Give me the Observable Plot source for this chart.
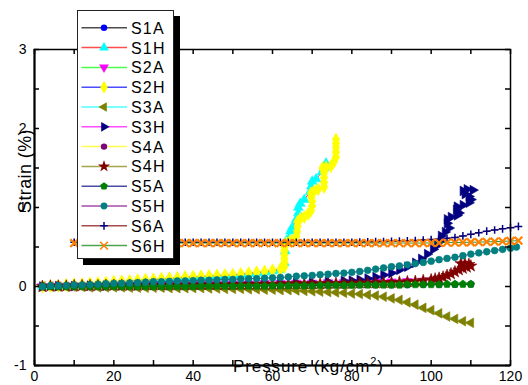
<!DOCTYPE html>
<html><head><meta charset="utf-8">
<script src="https://cdn.jsdelivr.net/npm/d3@7"></script>
<script src="https://cdn.jsdelivr.net/npm/@observablehq/plot@0.6"></script>
<style>
html,body{margin:0;padding:0;background:#fff;}
#chart{width:528px;height:385px;position:relative;overflow:hidden;}
</style></head><body><div id="chart"></div>
<script>
// ---- tick labels / axis ----
const xTicks = [0, 20, 40, 60, 80, 100, 120];
const yTicks = [-1, 0, 1, 2, 3];
const xMinorTicks = [0, 10, 20, 30, 40, 50, 60, 70, 80, 90, 100, 110, 120];
const yMinorTicks = [-1, -0.5, 0, 0.5, 1, 1.5, 2, 2.5, 3];
const xTitle = "Pressure (kg/cm";
const xTitleSup = "2";
const xTitleEnd = ")";
const yTitle = "Strain (%)";

// ---- series names and colours ----
const names = ["S1A","S1H","S2A","S2H","S3A","S3H","S4A","S4H","S5A","S5H","S6A","S6H"];
const lineColors = ["#000000","#ff0000","#00ff00","#0000ff","#00ffff","#ff00ff","#ffff00","#808000","#000080","#800080","#800000","#008000"];
const markColors = ["#0000ff","#00ffff","#ff00ff","#ffff00","#808000","#000080","#800080","#800000","#008000","#008080","#000080","#ff8000"];

// ---- data: [pressure, strain %] ----
const S1A = [[2,0],[6,0],[10,0],[14,0],[18,0],[22,0],[26,0],[30,0],[34,0],[38,0],[42,0.005],[46,0.005],[50,0.005],[54,0.01],[58,0.01],[62,0.01],[66,0.01],[70,0.015],[74,0.015],[78,0.015],[82,0.02],[86,0.02],[90,0.02],[94,0.02],[98,0.025],[102,0.025],[106,0.025],[110,0.03]];
const S1H = [[2,0],[4,0],[6,0.005],[8,0.01],[10,0.015],[12,0.02],[14,0.03],[16,0.035],[18,0.04],[20,0.05],[22,0.055],[24,0.06],[26,0.07],[28,0.075],[30,0.08],[32,0.09],[34,0.095],[36,0.10],[38,0.11],[40,0.115],[42,0.12],[44,0.125],[46,0.13],[48,0.135],[50,0.14],[52,0.15],[54,0.16],[56,0.17],[58,0.18],[60,0.195],[62,0.21],[63,0.3],[63.2,0.45],[63.5,0.58],[64.2,0.62],[64.5,0.7],[65,0.75],[66,0.85],[66.5,0.93],[66.5,1.0],[67,1.05],[68,1.1],[69.5,1.2],[69.8,1.27],[70,1.33],[71,1.36],[72.5,1.45],[73,1.5],[73.5,1.56]];
const S2A = [[2,0],[6,0.005],[10,0.01],[14,0.01],[18,0.015],[22,0.015],[26,0.02],[30,0.02],[34,0.025],[38,0.025],[42,0.03],[46,0.03],[50,0.035],[54,0.035],[58,0.04],[62,0.04],[66,0.045],[70,0.045],[74,0.05],[78,0.05],[82,0.055],[86,0.06],[90,0.06],[94,0.065],[98,0.07]];
const S2H = [[2,0],[4,0.005],[6,0.01],[8,0.02],[10,0.025],[12,0.03],[14,0.04],[16,0.045],[18,0.05],[20,0.06],[22,0.065],[24,0.07],[26,0.08],[28,0.085],[30,0.09],[32,0.10],[34,0.105],[36,0.11],[38,0.12],[40,0.125],[42,0.13],[44,0.135],[46,0.14],[48,0.145],[50,0.15],[52,0.16],[54,0.17],[56,0.18],[58,0.19],[60,0.205],[62,0.22],[63,0.25],[63,0.3],[63,0.35],[63,0.4],[63,0.45],[63,0.5],[63.5,0.55],[64.5,0.58],[65.5,0.6],[66,0.64],[66.2,0.7],[66.3,0.76],[66.3,0.82],[67,0.86],[68,0.88],[69,0.92],[69.7,0.96],[70,1.02],[70,1.08],[69.8,1.13],[69.7,1.18],[70.5,1.21],[71.5,1.23],[73,1.26],[73,1.32],[73,1.38],[73,1.44],[72.6,1.5],[73.5,1.51],[74.7,1.52],[75.5,1.58],[76,1.64],[76,1.7],[76,1.76],[76,1.81],[76,1.86]];
const S3A = [[2,0],[4,0],[6,0],[8,-0.005],[10,-0.005],[12,-0.005],[14,-0.01],[16,-0.01],[18,-0.01],[20,-0.01],[22,-0.01],[24,-0.015],[26,-0.015],[28,-0.015],[30,-0.015],[32,-0.015],[34,-0.02],[36,-0.02],[38,-0.02],[40,-0.02],[42,-0.02],[44,-0.025],[46,-0.025],[48,-0.03],[50,-0.03],[52,-0.03],[54,-0.035],[56,-0.035],[58,-0.04],[60,-0.04],[62,-0.045],[64,-0.045],[66,-0.05],[68,-0.055],[70,-0.06],[72,-0.065],[74,-0.07],[76,-0.075],[78,-0.08],[80,-0.09],[82,-0.095],[84,-0.105],[86,-0.115],[88,-0.13],[90,-0.15],[92,-0.17],[94,-0.2],[96,-0.23],[98,-0.27],[100,-0.3],[102,-0.34],[104,-0.38],[106,-0.41],[108,-0.44],[110,-0.46]];
const S3H = [[2,0],[6,0.005],[10,0.005],[14,0.01],[18,0.01],[22,0.015],[26,0.015],[30,0.02],[34,0.02],[38,0.025],[42,0.025],[46,0.03],[50,0.03],[54,0.035],[58,0.04],[62,0.04],[66,0.045],[70,0.05],[74,0.06],[78,0.07],[80,0.075],[82,0.085],[84,0.1],[86,0.12],[88,0.145],[90,0.17],[92,0.21],[94,0.25],[96,0.3],[97.5,0.35],[99,0.41],[100.5,0.47],[101.5,0.52],[102.5,0.58],[102.5,0.64],[103.5,0.69],[104.5,0.74],[104,0.8],[104,0.85],[105,0.88],[106.5,0.9],[107,0.93],[106.3,0.97],[106.5,1.01],[108,1.03],[109.5,1.06],[110,1.1],[109.5,1.14],[108.5,1.17],[108,1.21],[109,1.23],[110.5,1.22]];
const S4A = [[2,0],[6,0.005],[10,0.01],[14,0.01],[18,0.015],[22,0.015],[26,0.02],[30,0.02],[34,0.02],[38,0.025],[42,0.025],[46,0.025],[50,0.03],[54,0.03],[58,0.03],[62,0.035],[66,0.035],[70,0.035],[74,0.04],[78,0.04],[82,0.04],[86,0.045],[90,0.045],[94,0.05],[98,0.05]];
const S4H = [[2,0],[4,0.005],[6,0.005],[8,0.005],[10,0.01],[12,0.01],[14,0.01],[16,0.01],[18,0.015],[20,0.015],[22,0.015],[24,0.015],[26,0.015],[28,0.02],[30,0.02],[32,0.02],[34,0.02],[36,0.02],[38,0.02],[40,0.025],[42,0.025],[44,0.025],[46,0.025],[48,0.025],[50,0.025],[52,0.03],[54,0.03],[56,0.03],[58,0.03],[60,0.03],[62,0.03],[64,0.035],[66,0.035],[68,0.035],[70,0.035],[72,0.035],[74,0.04],[76,0.04],[78,0.04],[80,0.04],[82,0.045],[84,0.045],[86,0.045],[88,0.05],[90,0.05],[92,0.055],[94,0.06],[96,0.065],[98,0.075],[100,0.085],[101,0.095],[102,0.105],[103,0.12],[104,0.14],[105,0.16],[106,0.185],[107,0.21],[108,0.23],[109,0.245],[110,0.26],[109.5,0.28],[108.5,0.29],[107.5,0.29]];
const S5A = [[2,0],[4,0],[6,0],[8,0],[10,0],[12,0],[14,0],[16,0],[18,0],[20,0],[22,0],[24,0],[26,0],[28,0],[30,0],[32,0],[34,0],[36,0],[38,0],[40,0],[42,0.005],[44,0.005],[46,0.005],[48,0.005],[50,0.005],[52,0.005],[54,0.005],[56,0.005],[58,0.005],[60,0.01],[62,0.01],[64,0.01],[66,0.01],[68,0.01],[70,0.01],[72,0.015],[74,0.015],[76,0.015],[78,0.015],[80,0.015],[82,0.02],[84,0.02],[86,0.02],[88,0.02],[90,0.02],[92,0.02],[94,0.025],[96,0.025],[98,0.025],[100,0.025],[102,0.025],[104,0.03],[106,0.03],[108,0.03],[110,0.03]];
const S5H = [[2,0],[4,0.01],[6,0.01],[8,0.015],[10,0.02],[12,0.02],[14,0.025],[16,0.03],[18,0.035],[20,0.04],[22,0.04],[24,0.045],[26,0.05],[28,0.055],[30,0.06],[32,0.06],[34,0.065],[36,0.07],[38,0.07],[40,0.075],[42,0.08],[44,0.08],[46,0.085],[48,0.09],[50,0.09],[52,0.095],[54,0.1],[56,0.1],[58,0.105],[60,0.11],[62,0.115],[64,0.12],[66,0.13],[68,0.135],[70,0.14],[72,0.15],[74,0.155],[76,0.165],[78,0.17],[80,0.18],[82,0.19],[84,0.205],[86,0.22],[88,0.235],[90,0.25],[92,0.26],[94,0.275],[96,0.29],[98,0.305],[100,0.32],[102,0.34],[104,0.355],[106,0.37],[108,0.39],[110,0.41],[112,0.425],[114,0.44],[116,0.455],[118,0.47],[120,0.485],[121.5,0.5]];
const S6A = [[10,0.56],[12,0.56],[14,0.56],[16,0.56],[18,0.56],[20,0.56],[22,0.56],[24,0.56],[26,0.56],[28,0.56],[30,0.56],[32,0.56],[34,0.56],[36,0.56],[38,0.56],[40,0.56],[42,0.56],[44,0.56],[46,0.56],[48,0.56],[50,0.56],[52,0.56],[54,0.56],[56,0.56],[58,0.56],[60,0.56],[62,0.56],[64,0.56],[66,0.56],[68,0.56],[70,0.56],[72,0.56],[74,0.56],[76,0.56],[78,0.56],[80,0.56],[82,0.562],[84,0.565],[86,0.568],[88,0.57],[90,0.572],[92,0.575],[94,0.578],[96,0.582],[98,0.588],[100,0.595],[102,0.6],[104,0.61],[106,0.62],[108,0.64],[110,0.66],[112,0.68],[114,0.7],[116,0.715],[118,0.73],[120,0.745],[122,0.76]];
const S6H = [[10,0.55],[12,0.55],[14,0.55],[16,0.55],[18,0.55],[20,0.55],[22,0.55],[24,0.55],[26,0.55],[28,0.55],[30,0.55],[32,0.55],[34,0.55],[36,0.55],[38,0.55],[40,0.55],[42,0.55],[44,0.55],[46,0.55],[48,0.55],[50,0.55],[52,0.55],[54,0.55],[56,0.55],[58,0.55],[60,0.55],[62,0.55],[64,0.55],[66,0.55],[68,0.55],[70,0.55],[72,0.55],[74,0.55],[76,0.55],[78,0.55],[80,0.55],[82,0.55],[84,0.55],[86,0.55],[88,0.55],[90,0.55],[92,0.55],[94,0.55],[96,0.55],[98,0.55],[100,0.552],[102,0.553],[104,0.555],[106,0.556],[108,0.558],[110,0.56],[112,0.562],[114,0.565],[116,0.568],[118,0.572],[120,0.576],[122,0.58]];

const allSeries = [S1A,S1H,S2A,S2H,S3A,S3H,S4A,S4H,S5A,S5H,S6A,S6H];

// ---- marker shapes ----
const SQ3 = Math.sqrt(3);
function triangle(dir) {
  return {draw(ctx, size) {
    const y = -Math.sqrt(size / (SQ3 * 3));
    const pts = [[0, y * 2], [-SQ3 * y, -y], [SQ3 * y, -y]];
    pts.forEach(([a, b], i) => {
      let px = a, py = b;
      if (dir === "down") { px = a; py = -b; }
      else if (dir === "left") { px = b; py = a; }
      else if (dir === "right") { px = -b; py = a; }
      i ? ctx.lineTo(px, py) : ctx.moveTo(px, py);
    });
    ctx.closePath();
  }};
}
const pentagon = {draw(ctx, size) {
  const R = Math.sqrt(size / (2.5 * Math.sin(2 * Math.PI / 5)));
  for (let i = 0; i < 5; i++) {
    const a = -Math.PI / 2 + i * 2 * Math.PI / 5;
    const px = R * Math.cos(a), py = R * Math.sin(a);
    i ? ctx.lineTo(px, py) : ctx.moveTo(px, py);
  }
  ctx.closePath();
}};
const symbols = [d3.symbolCircle, triangle("up"), triangle("down"), d3.symbolDiamond, triangle("left"), triangle("right"), d3.symbolCircle, d3.symbolStar, pentagon, d3.symbolCircle, d3.symbolPlus, d3.symbolTimes];
const plotSymbols = ["circle", triangle("up"), triangle("down"), "diamond", triangle("left"), triangle("right"), "circle", "star", pentagon, "circle", "plus", "times"];
const radii = [3.2, 3.6, 3.6, 3.9, 3.6, 3.6, 3.2, 3.8, 3.5, 3.4, 2.6, 3.6];
const strokeOnly = [false,false,false,false,false,false,false,false,false,false,true,true];
const strokeWidths = [0.6,0.6,0.6,0.6,0.6,0.6,0.6,0.6,0.6,0.6,1.5,2.2];

const FONT = "'Liberation Sans', Arial, Helvetica, sans-serif";

const marks = [];
allSeries.forEach((data, i) => {
  marks.push(Plot.line(data, {x: d => d[0], y: d => d[1], stroke: lineColors[i], strokeWidth: 1, strokeOpacity: 0.8}));
  if (strokeOnly[i]) {
    marks.push(Plot.dot(data, {x: d => d[0], y: d => d[1], symbol: plotSymbols[i], r: radii[i], stroke: markColors[i], strokeWidth: strokeWidths[i], fill: "none"}));
  } else {
    marks.push(Plot.dot(data, {x: d => d[0], y: d => d[1], symbol: plotSymbols[i], r: radii[i], fill: markColors[i], stroke: markColors[i], strokeWidth: strokeWidths[i]}));
  }
});

const W = 528, H = 385, ML = 34, MR = 18, MT = 49, MB = 20;
const innerW = W - ML - MR, innerH = H - MT - MB;
const TK = 5;

const chart = Plot.plot({
  width: W, height: H,
  marginLeft: ML, marginRight: MR, marginTop: MT, marginBottom: MB,
  style: {fontFamily: FONT, fontSize: "14px", background: "#fff", color: "#000", overflow: "visible"},
  x: {domain: [0, 120], ticks: xTicks, tickSize: 0, tickPadding: 6, label: null, tickFormat: d => String(d)},
  y: {domain: [-1, 3], ticks: yTicks, tickSize: 0, tickPadding: 8, label: null, tickFormat: d => String(d)},
  marks: [
    ...marks,
    // inward tick marks on all four sides
    Plot.ruleX(xMinorTicks, {x: d => d, insetTop: innerH - TK, stroke: "#000", strokeWidth: 1.5}),
    Plot.ruleX(xMinorTicks, {x: d => d, insetBottom: innerH - TK, stroke: "#000", strokeWidth: 1.5}),
    Plot.ruleY(yMinorTicks, {y: d => d, insetRight: innerW - TK, stroke: "#000", strokeWidth: 1.5}),
    Plot.ruleY(yMinorTicks, {y: d => d, insetLeft: innerW - TK, stroke: "#000", strokeWidth: 1.5}),
    Plot.frame({stroke: "#000", strokeWidth: 1.5}),
    Plot.ruleX([0], {stroke: "#000", strokeWidth: 2}),
    Plot.ruleY([-1], {stroke: "#000", strokeWidth: 2})
  ]
});
document.getElementById("chart").appendChild(chart);

const svg = d3.select(chart);

// axis titles
const xt = svg.append("text")
  .attr("x", 233).attr("y", 372).attr("text-anchor", "start")
  .attr("font-family", FONT).attr("font-size", 17).attr("letter-spacing", 0.9).attr("fill", "#000");
xt.append("tspan").text(xTitle);
xt.append("tspan").attr("dy", -7).attr("font-size", 11).text(xTitleSup);
xt.append("tspan").attr("dy", 7).text(xTitleEnd);

svg.append("text")
  .attr("transform", "translate(31,171) rotate(-90)")
  .attr("text-anchor", "middle")
  .attr("font-family", FONT).attr("font-size", 18).attr("letter-spacing", 0.4).attr("fill", "#000")
  .text(yTitle);

// legend with drop shadow
const lg = svg.append("g").attr("text-anchor", "start");
lg.append("rect").attr("x", 83).attr("y", 16).attr("width", 97).attr("height", 249).attr("fill", "#000");
lg.append("rect").attr("x", 77.5).attr("y", 10.5).attr("width", 96).attr("height", 248).attr("fill", "#fff").attr("stroke", "#222").attr("stroke-width", 1);
names.forEach((n, i) => {
  const y = 27.8 + i * 19.8;
  lg.append("line").attr("x1", 81.5).attr("x2", 127).attr("y1", y).attr("y2", y)
    .attr("stroke", lineColors[i]).attr("stroke-width", 1.5).attr("stroke-opacity", 0.7);
  const size = Math.PI * radii[i] * radii[i];
  const p = lg.append("path").attr("transform", `translate(104,${y})`).attr("d", d3.symbol(symbols[i], size)());
  if (strokeOnly[i]) p.attr("fill", "none").attr("stroke", markColors[i]).attr("stroke-width", 1.5);
  else p.attr("fill", markColors[i]);
  lg.append("text").attr("x", 131).attr("y", y + 6).attr("text-anchor", "start")
    .attr("font-family", FONT).attr("font-size", 16).attr("letter-spacing", 1.2).attr("fill", "#000")
    .text(n);
});
</script>
</body></html>
